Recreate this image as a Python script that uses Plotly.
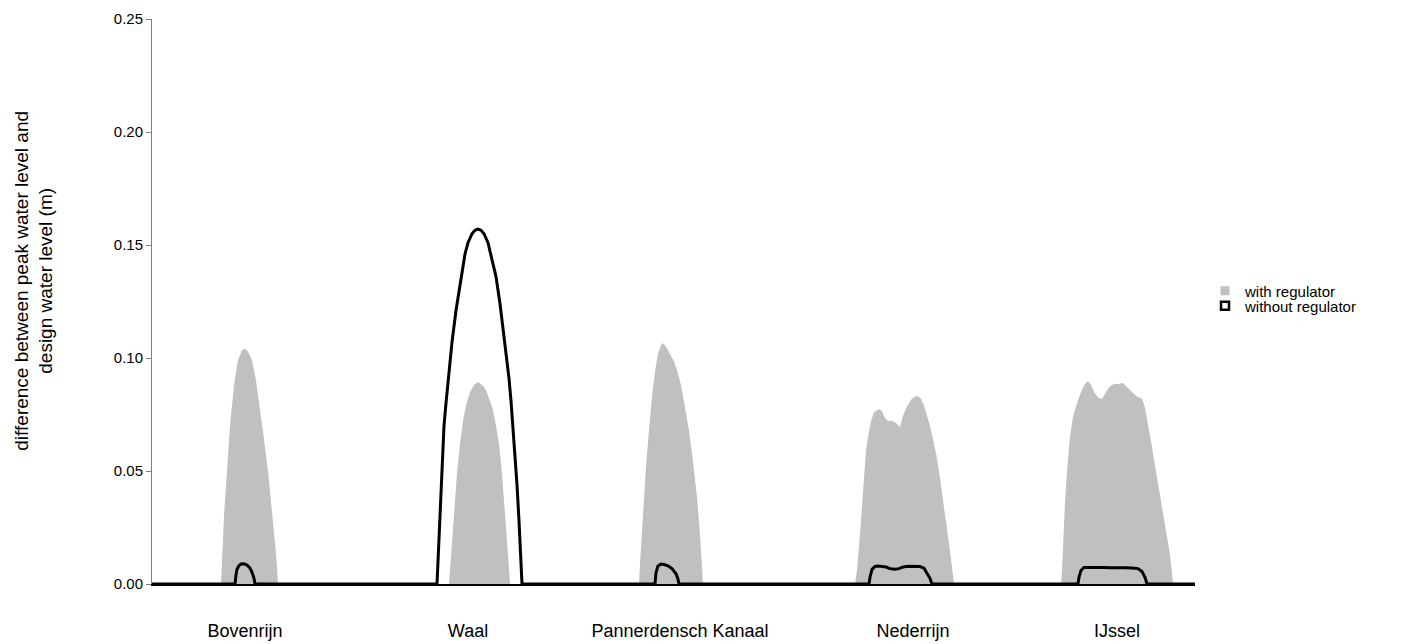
import plotly.graph_objects as go

# Category labels and their positions along the (arbitrary) longitudinal axis
categories = ["Bovenrijn", "Waal", "Pannerdensch Kanaal", "Nederrijn", "IJssel"]
category_pos = [245, 468, 680, 913, 1117]
x_start, x_end = 152, 1195

# "with regulator" profiles (position, difference in m), per river branch
with_bovenrijn_x = [221, 222, 224, 227, 230, 234, 238, 242, 245, 248, 252, 256, 260, 264, 268, 272, 275, 277, 278]
with_bovenrijn_y = [0, 0.010, 0.030, 0.050, 0.070, 0.088, 0.099, 0.1035, 0.104, 0.103, 0.099, 0.090, 0.078, 0.064, 0.050, 0.033, 0.018, 0.008, 0]
with_waal_x = [449, 451, 454, 457, 460, 463, 466, 470, 474, 478, 482, 486, 490, 493, 496, 499, 502, 505, 508, 510]
with_waal_y = [0, 0.012, 0.033, 0.049, 0.062, 0.072, 0.079, 0.085, 0.088, 0.0894, 0.088, 0.0858, 0.081, 0.077, 0.070, 0.062, 0.049, 0.033, 0.013, 0]
with_pannerdensch_x = [639, 640, 642, 644, 646, 649, 652, 655, 658, 661, 663, 666, 670, 674, 678, 681, 685, 689, 693, 697, 700, 702, 703]
with_pannerdensch_y = [0, 0.009, 0.025, 0.0385, 0.052, 0.068, 0.083, 0.094, 0.102, 0.1055, 0.1066, 0.105, 0.1015, 0.0985, 0.093, 0.088, 0.078, 0.068, 0.054, 0.0385, 0.022, 0.009, 0]
with_nederrijn_x = [855, 857, 860, 862, 864, 866, 868, 871, 874, 879, 882, 885, 888, 892, 896, 900, 903, 907, 911, 915, 918, 921, 924, 927, 930, 933, 936, 939, 943, 948, 951, 954]
with_nederrijn_y = [0, 0.006, 0.022, 0.036, 0.050, 0.059, 0.065, 0.072, 0.076, 0.0774, 0.0765, 0.0735, 0.0722, 0.0722, 0.0712, 0.0695, 0.0745, 0.0785, 0.0815, 0.083, 0.0832, 0.082, 0.079, 0.075, 0.070, 0.064, 0.058, 0.050, 0.036, 0.021, 0.011, 0]
with_ijssel_x = [1061, 1062, 1065, 1067, 1070, 1073, 1077, 1081, 1085, 1088, 1091, 1094, 1098, 1102, 1106, 1110, 1114, 1118, 1123, 1127, 1130, 1133, 1137, 1142, 1145, 1148, 1151, 1154, 1157, 1160, 1163, 1167, 1170, 1172, 1173]
with_ijssel_y = [0, 0.006, 0.036, 0.050, 0.065, 0.074, 0.080, 0.085, 0.0885, 0.0898, 0.088, 0.085, 0.0825, 0.0819, 0.085, 0.0875, 0.0885, 0.0885, 0.0889, 0.087, 0.086, 0.0845, 0.083, 0.082, 0.078, 0.071, 0.063, 0.055, 0.047, 0.039, 0.031, 0.022, 0.013, 0.005, 0]

# "without regulator" profiles
without_bovenrijn_x = [235, 236, 237, 239, 241, 244, 247, 250, 252, 254, 255]
without_bovenrijn_y = [0, 0.004, 0.0065, 0.0082, 0.0089, 0.009, 0.0084, 0.007, 0.0052, 0.0025, 0]
without_waal_x = [437, 438, 439, 440, 442, 444, 446, 448, 450, 452, 456, 461, 465, 468, 472, 475, 478, 481, 484, 488, 492, 496, 500, 504, 507, 509, 511, 513, 515, 517, 519, 520, 521, 522]
without_waal_y = [0, 0.010, 0.022, 0.036, 0.056, 0.070, 0.080, 0.090, 0.099, 0.107, 0.121, 0.136, 0.146, 0.151, 0.155, 0.1565, 0.157, 0.1565, 0.155, 0.151, 0.144, 0.136, 0.124, 0.110, 0.099, 0.091, 0.081, 0.070, 0.057, 0.044, 0.028, 0.019, 0.009, 0]
without_pannerdensch_x = [655, 655.5, 656, 658, 661, 664, 668, 672, 676, 678, 679]
without_pannerdensch_y = [0, 0.003, 0.005, 0.008, 0.0088, 0.0086, 0.008, 0.0068, 0.0045, 0.0022, 0]
without_nederrijn_x = [869, 870, 872, 875, 878, 882, 886, 890, 895, 899, 903, 908, 914, 920, 924, 927, 930, 932]
without_nederrijn_y = [0, 0.003, 0.0065, 0.0078, 0.008, 0.0078, 0.0075, 0.0068, 0.0065, 0.0068, 0.0075, 0.0079, 0.0079, 0.0077, 0.007, 0.005, 0.0025, 0]
without_ijssel_x = [1078, 1079, 1081, 1084, 1090, 1097, 1104, 1111, 1118, 1125, 1132, 1138, 1142, 1145, 1147]
without_ijssel_y = [0, 0.003, 0.006, 0.0073, 0.0074, 0.0072, 0.0073, 0.0072, 0.0073, 0.0072, 0.0071, 0.0068, 0.0055, 0.003, 0]

y_ticks = [0, 0.05, 0.10, 0.15, 0.20, 0.25]


def join(parts):
    xs, ys = [x_start], [0]
    for px, py in parts:
        xs += px
        ys += py
    xs.append(x_end)
    ys.append(0)
    return xs, ys


wx, wy = join([(with_bovenrijn_x, with_bovenrijn_y), (with_waal_x, with_waal_y),
               (with_pannerdensch_x, with_pannerdensch_y), (with_nederrijn_x, with_nederrijn_y),
               (with_ijssel_x, with_ijssel_y)])
nx, ny = join([(without_bovenrijn_x, without_bovenrijn_y), (without_waal_x, without_waal_y),
               (without_pannerdensch_x, without_pannerdensch_y), (without_nederrijn_x, without_nederrijn_y),
               (without_ijssel_x, without_ijssel_y)])

GRAY = "#c0c0c0"
FONT = "Arial, Liberation Sans, sans-serif"

fig = go.Figure()
fig.add_trace(go.Scatter(x=wx, y=wy, mode="lines", fill="tozeroy", fillcolor=GRAY,
                         line=dict(width=0, color=GRAY),
                         showlegend=False, hoverinfo="skip"))
fig.add_trace(go.Scatter(x=nx, y=ny, mode="lines",
                         line=dict(width=3, color="black"),
                         showlegend=False, hoverinfo="skip"))
# legend entries
fig.add_trace(go.Scatter(x=[None], y=[None], mode="markers", name="with regulator",
                         legend="legend",
                         marker=dict(symbol="square", size=9, color=GRAY)))
fig.add_trace(go.Scatter(x=[None], y=[None], mode="markers", name="without regulator",
                         legend="legend2",
                         marker=dict(symbol="square", size=8, color="white",
                                     line=dict(color="black", width=2.5))))

legend_common = dict(xanchor="left", yanchor="middle", font=dict(size=15),
                     itemwidth=30, bgcolor="rgba(0,0,0,0)")

fig.update_layout(
    width=1402, height=644,
    margin=dict(l=144, r=215, t=11, b=68, autoexpand=False),
    paper_bgcolor="white", plot_bgcolor="white",
    font=dict(family=FONT, size=15, color="black"),
    showlegend=True,
    legend=dict(x=1.0096, y=0.5186, **legend_common),
    legend2=dict(x=1.0096, y=0.492, **legend_common),
    xaxis=dict(range=[x_start, x_end], showgrid=False, zeroline=False,
               showline=True, linecolor="black", linewidth=2, automargin=False,
               tickmode="array", tickvals=category_pos, ticktext=categories,
               ticks="", ticklabelstandoff=29, tickfont=dict(size=18)),
    yaxis=dict(range=[0, 0.25], showgrid=False, zeroline=False, automargin=False,
               showline=True, linecolor="#808080", linewidth=1,
               tickmode="array", tickvals=y_ticks,
               tickformat=".2f", ticks="outside", ticklen=5, tickcolor="#808080",
               tickfont=dict(size=15)),
    annotations=[dict(text="difference between peak water level and<br>design water level (m)",
                      xref="paper", yref="paper", x=-0.114, y=0.537,
                      xanchor="center", yanchor="middle", textangle=-90,
                      showarrow=False, font=dict(size=19))],
)

fig.write_html("out.html")
